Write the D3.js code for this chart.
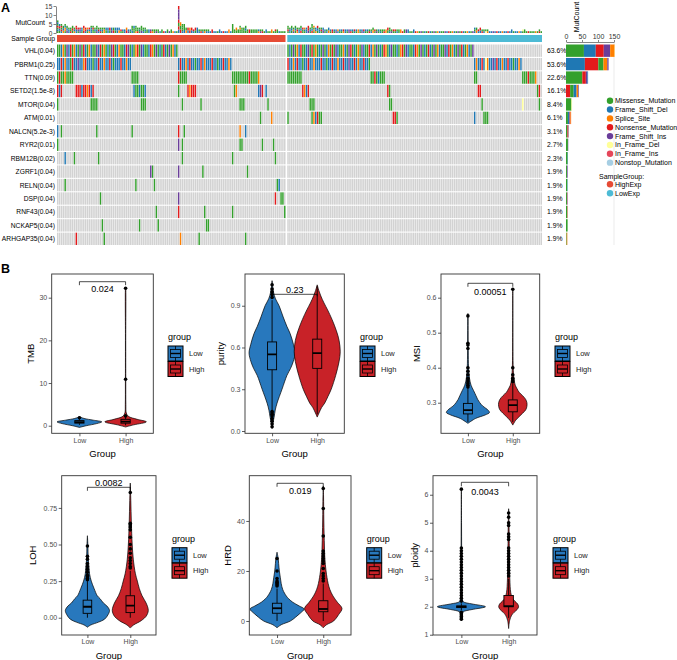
<!DOCTYPE html>
<html><head><meta charset="utf-8">
<script src="https://cdn.jsdelivr.net/npm/d3@7"></script>
<style>body{margin:0;background:#fff}svg{display:block}</style>
</head><body>
<svg id="c" width="677" height="660"></svg>
<script>
// ================= PANEL A DATA =================
const genes = ["VHL","PBRM1","TTN","SETD2","MTOR","ATM","NALCN","RYR2","RBM12B","ZGRF1","RELN","DSP","RNF43","NCKAP5","ARHGAP35"];
const genePvals = ["0.04","0.25","0.09","1.5e-8","0.04","0.01","5.2e-3","0.01","0.02","0.04","0.04","0.04","0.04","0.04","0.04"];
const genePct = ["63.6%","53.6%","22.6%","16.1%","8.4%","6.1%","3.1%","2.7%","2.3%","1.9%","1.9%","1.9%","1.9%","1.9%","1.9%"];
const variantTypes = ["Missense_Mutation","Frame_Shift_Del","Splice_Site","Nonsense_Mutation","Frame_Shift_Ins","In_Frame_Del","In_Frame_Ins","Nonstop_Mutation"];
const variantCodes = ["M","D","S","N","I","d","i","o"];
const variantColors = ["#33A02C","#1F78B4","#FF7F00","#E31A1C","#6A3D9A","#FFFF99","#E5465A","#A6CEE3"];
const sampleGroups = ["HighExp","LowExp"];
const sampleGroupColors = ["#E64B35","#4DBBD5"];
const nHigh = 123, nLow = 138;
const mutCountTicks = [0,5,10,15];
const geneBarTicks = [0,50,100,150];

// mutations per gene, as [first sample column, one code per column]
const highExpMutations = [
  [[0,"MMDSMIDNMS"+"DMIMNDMSDM"+"MIDNMSMDMI"+"NMDSMMDNIM"+"DMSNMIDMMD"+"NSMIMDMNDM"+"IMSDM"]],
  [[0,"DDNDSDDMND"+"DIDDSNDDDM"+"DDNDDSDDND"+"MDDDNDDSDD"],[65,"DNDDSDNDDM"+"DDNDSDDDND"+"DMDDNDDSD"]],
  [[0,"MNMMSMMMM"],[40,"MMMM"],[65,"NMMMM"],[94,"MMMMMMMMMNMMMMS"]],
  [[0,"NDN"],[10,"NNNDNNSNDN"],[41,"DMMDMMD"],[65,"M"],[70,"NSNNN"],[95,"MS"],[108,"DIN"],[112,"D"]],
  [[0,"M"],[18,"MMMM"],[45,"MMM"],[67,"M"],[77,"M"],[98,"MMM"],[113,"M"]],
  [[109,"M"],[115,"S"]],
  [[0,"D"],[2,"M"],[21,"M"],[40,"M"],[65,"N"],[68,"M"],[98,"S"],[101,"D"]],
  [[0,"M"],[65,"I"],[67,"M"],[98,"MM"],[110,"M"],[116,"M"]],
  [[4,"D"],[9,"M"],[22,"M"],[67,"M"],[94,"M"],[117,"M"]],
  [[50,"IM"],[65,"I"],[78,"M"],[102,"M"]],
  [[4,"M"],[42,"M"],[52,"M"],[118,"MD"]],
  [[23,"M"],[65,"I"],[117,"N"],[120,"MM"]],
  [[53,"M"],[65,"N"],[79,"M"],[94,"M"],[122,"M"]],
  [[24,"M"],[44,"M"],[54,"M"],[80,"MM"]],
  [[10,"N"],[25,"M"],[66,"S"],[76,"M"],[101,"M"]]
];
const lowExpMutations = [
  [[0,"MDMIMSDNMM"+"DIMNMSMDMI"+"MDSMNMIDMM"+"SDMINMDMSM"+"IDMMNDSMIM"+"DMNSMDIMMD"+"MSNMIDMMDN"+"SMIMDMNDMI"+"MSDMMIDNMS"+"DMIMNDMSDM"+"I"]],
  [[0,"NDDSDNDDMD"+"DNDDSDDDND"+"DMDDNDDSDD"+"NDDIDDNDSD"+"DNDDM"],[101,"DSDDNDdSDD"+"IDNDDSDDND"+"DMDDSD"]],
  [[0,"MMMMMMMM"],[45,"MMNMDMMM"],[101,"MM"],[127,"MMMNMMMS"]],
  [[8,"NSDN"],[54,"NM"],[103,"NN"],[135,"MN"]],
  [[12,"MMM"],[55,"MM"],[105,"M"],[127,"d"],[136,"M"]],
  [[0,"M"],[13,"MSDNMM"],[57,"NNM"],[101,"D"],[106,"MMM"]],
  [],[],[],[],[],[],[],[],[]
];
const mutCountHigh = [6,5,5,4,3,4,3,3,4,3, 4,3,3,3,4,3,3,3,3,3, 3,3,3,3,3,3,3,3,3,3, 3,3,3,3,2,2,2,3,2,2,
  4,4,4,3,3,4,2,2,2,2, 2,2,2,2,2,1,2,1,1,2, 1,2,1,1,1,15,6,5,5,3, 3,3,3,2,3,3,2,2,2,2,
  2,2,1,2,1,1,1,2,1,1, 1,1,2,1,5,2,3,2,3,2, 3,4,2,2,2,2,2,2,2,2, 1,1,2,1,1,2,1,1,2,1, 1,1,1];
const mutCountLow = [4,3,4,3,4,3,3,4,3,3, 3,4,3,5,3,3,4,3,3,3, 2,2,3,2,2,2,2,2,2,2, 2,2,2,2,2,2,2,2,2,2,
  2,2,2,2,2,2,3,2,2,2, 2,2,2,2,3,2,2,2,2,2, 2,2,1,2,2,2,1,1,2,1, 1,1,1,1,1,1,1,1,1,1,
  1,1,1,1,1,1,1,1,1,1, 1,1,1,1,1,1,1,1,1,1, 1,3,3,2,3,2,2,2,2,1, 1,1,1,1,1,1,1,1,1,1,
  1,2,1,1,1,1,1,1,2,1, 1,1,1,1,1,1,2,1];
// right-hand gene bar (mutations per gene, by type)
const barMissense       = [56,16,51,11,17,6,4,6,5,3,4,3,4,5,2];
const barFrameShiftDel  = [37,59,2,9,0,5,1,0,1,0,1,0,0,0,0];
const barSplice         = [14,12,0,5,0,2,1,0,0,0,0,0,0,0,1];
const barNonsense       = [25,42,11,13,0,3,2,0,0,0,0,1,1,0,1];
const barFrameShiftIns  = [20,4,5,2,0,0,1,1,0,2,0,1,0,0,0];
const barInFrameDel     = [1,0,0,0,2,0,0,0,0,0,0,0,0,0,1];
const barInFrameIns     = [0,0,0,0,0,0,0,0,0,0,0,0,0,0,0];
const barNonstop        = [0,0,0,0,0,0,0,0,0,0,0,0,0,0,0];

// ================= PANEL B DATA =================
const groupNames = ["Low","High"];
const groupColors = ["#2878BD","#C82228"];
const metricNames = ["TMB","purity","MSI","LOH","HRD","ploidy"];
const pValues = ["0.024","0.23","0.00051","0.0082","0.019","0.0043"];
const tmbTicks = [0,10,20,30], purityTicks = [0,0.3,0.6,0.9], msiTicks = [0.3,0.4,0.5,0.6],
      lohTicks = [0,0.25,0.5,0.75], hrdTicks = [0,20,40], ploidyTicks = [1,2,3,4,5,6];
// violin outlines: [value, relative half width]
const tmbLowDensity = [[-0.4,0],[0,0.3],[0.5,0.75],[0.9,0.97],[1.3,0.6],[1.7,0.2],[2.1,0]];
const tmbHighDensity = [[-0.3,0],[0.2,0.35],[0.9,0.9],[1.5,0.5],[2.2,0.12],[3,0.03],[5,0.012],[10,0.008],[20,0.006],[32.3,0.005],[32.4,0]];
const purityLowDensity = [[0.02,0],[0.06,0.04],[0.1,0.09],[0.15,0.14],[0.2,0.22],[0.3,0.44],[0.4,0.66],[0.45,0.82],[0.5,0.94],[0.56,1.02],[0.62,0.95],[0.7,0.8],[0.75,0.66],[0.82,0.49],[0.9,0.31],[0.95,0.15],[1.0,0.06],[1.08,0]];
const purityHighDensity = [[0.1,0],[0.13,0.08],[0.17,0.2],[0.2,0.33],[0.25,0.48],[0.3,0.62],[0.4,0.82],[0.5,0.97],[0.57,1.02],[0.65,0.97],[0.72,0.85],[0.8,0.66],[0.87,0.46],[0.92,0.3],[0.97,0.16],[1.01,0.07],[1.05,0]];
const msiLowDensity = [[0.241,0],[0.255,0.34],[0.265,0.77],[0.272,0.96],[0.28,0.88],[0.29,0.67],[0.3,0.53],[0.31,0.43],[0.32,0.36],[0.335,0.25],[0.35,0.14],[0.37,0.07],[0.4,0.03],[0.45,0.015],[0.55,0.005],[0.555,0]];
const msiHighDensity = [[0.236,0],[0.25,0.13],[0.26,0.28],[0.27,0.44],[0.28,0.58],[0.29,0.63],[0.3,0.63],[0.31,0.57],[0.32,0.44],[0.33,0.28],[0.34,0.19],[0.35,0.11],[0.37,0.05],[0.4,0.02],[0.5,0.006],[0.624,0.003],[0.626,0]];
const lohLowDensity = [[-0.065,0],[-0.05,0.15],[-0.03,0.52],[-0.01,0.8],[0.02,0.96],[0.05,1.03],[0.08,0.91],[0.1,0.75],[0.13,0.59],[0.15,0.46],[0.2,0.31],[0.25,0.18],[0.3,0.1],[0.35,0.07],[0.4,0.04],[0.5,0.02],[0.56,0]];
const lohHighDensity = [[-0.07,0],[-0.05,0.15],[-0.02,0.51],[0.01,0.74],[0.05,0.84],[0.1,0.74],[0.15,0.55],[0.2,0.42],[0.25,0.33],[0.3,0.24],[0.4,0.14],[0.5,0.09],[0.65,0.05],[0.8,0.025],[0.92,0]];
const hrdLowDensity = [[-2.7,0],[-1.5,0.18],[0,0.58],[1.5,0.8],[3,0.99],[4.8,1.17],[6,0.96],[7.5,0.68],[9,0.49],[10,0.4],[12.5,0.25],[15,0.18],[17.5,0.14],[20,0.1],[23,0.07],[25,0.05],[27.5,0]];
const hrdHighDensity = [[-2.7,0],[-1.5,0.14],[0,0.45],[2.5,0.66],[5,0.81],[7.5,0.61],[10,0.42],[12.5,0.29],[15,0.21],[20,0.12],[25,0.07],[30,0.05],[40,0.025],[50,0.012],[54,0]];
const ploidyLowDensity = [[1.5,0],[1.6,0.02],[1.75,0.04],[1.82,0.08],[1.9,0.45],[2.0,1.02],[2.1,0.45],[2.18,0.08],[2.3,0.04],[2.5,0.03],[3,0.02],[4,0.012],[5,0.007],[6.2,0]];
const ploidyHighDensity = [[1.22,0],[1.5,0.04],[1.7,0.13],[1.8,0.23],[1.9,0.36],[2.0,0.42],[2.1,0.38],[2.2,0.26],[2.3,0.16],[2.5,0.09],[3,0.05],[4,0.03],[5,0.015],[5.5,0]];
// boxes: [lower whisker, Q1, median, Q3, upper whisker]
const tmbLowBox = [0.2,0.6,0.85,1.2,1.7], tmbHighBox = [0.1,0.6,0.95,1.5,2.0];
const purityLowBox = [0.15,0.44,0.55,0.64,0.94], purityHighBox = [0.12,0.45,0.56,0.66,1.04];
const msiLowBox = [0.245,0.268,0.279,0.298,0.342], msiHighBox = [0.245,0.274,0.293,0.308,0.355];
const lohLowBox = [0,0.03,0.075,0.12,0.25], lohHighBox = [0,0.035,0.082,0.15,0.32];
const hrdLowBox = [0,3.1,5.1,7.1,13], hrdHighBox = [0,3.7,4.8,8.1,15];
const ploidyLowBox = [1.88,1.97,2.0,2.03,2.12], ploidyHighBox = [1.6,2.0,2.02,2.4,3.0];
// outliers
const tmbLowOut = [1.85], tmbHighOut = [2.3,10.9,32.2];
const purityLowOut = [0.03,0.05,0.07,0.09,0.11,0.12,0.13,0.14,0.96,0.98,1.0,1.02,1.05], purityHighOut = [];
const msiLowOut = [0.345,0.35,0.355,0.36,0.365,0.37,0.38,0.39,0.4,0.455,0.465,0.47,0.548], msiHighOut = [0.36,0.365,0.37,0.38,0.4,0.624];
const lohLowOut = [0.26,0.27,0.28,0.29,0.31,0.33,0.35,0.37,0.4,0.42,0.49], lohHighOut = [0.34,0.35,0.37,0.39,0.41,0.44,0.47,0.5,0.55,0.6,0.62,0.635,0.645,0.855];
const hrdLowOut = [14,14.5,15,15.5,16,17,20,25], hrdHighOut = [16,17,18,19,21,23,24,25,26,27,28,34,45,53];
const ploidyLowOut = [1.55,1.6,1.65,1.7,1.75,1.8,2.2,2.3,2.4,2.5,2.6,2.7,2.8,2.9,3.0,3.1,3.2,3.3,3.4,3.5,3.6,3.7,3.8,3.9,4.0,4.1,6.2];
const ploidyHighOut = [3.1,3.2,3.3,3.4,3.5,3.6,3.7,3.8,3.9,4.0,4.1,4.4,4.5,4.6,4.9,5.0,5.2,5.35];

// ================= DRAWING =================
const FONT = '"Liberation Sans", Arial, Helvetica, sans-serif';
const svg = d3.select("#c").attr("font-family", FONT);
svg.append("rect").attr("width",677).attr("height",660).attr("fill","#fff");
const colorOf = Object.fromEntries(variantCodes.map((c,i)=>[c,variantColors[i]]));

svg.append("text").attr("x",1).attr("y",12).attr("font-size",12.5).attr("font-weight","bold").text("A");
svg.append("text").attr("x",1).attr("y",273).attr("font-size",12.5).attr("font-weight","bold").text("B");

function buildMatrix(list, n){
  return list.map(segs=>{
    const row = new Array(n).fill(null);
    segs.forEach(([s,str])=>{ for(let k=0;k<str.length;k++) if(s+k<n) row[s+k]=str[k]; });
    return row;
  });
}
const matHigh = buildMatrix(highExpMutations, nHigh);
const matLow = buildMatrix(lowExpMutations, nLow);

const xHigh = d3.scaleBand().domain(d3.range(nHigh)).range([57,285.5]).paddingInner(0.22);
const xLow = d3.scaleBand().domain(d3.range(nLow)).range([287.3,542]).paddingInner(0.22);
const yGene = d3.scaleBand().domain(genes).range([44.5,245]).paddingInner(0.08);
const yMut = d3.scaleLinear().domain([0,15]).range([33,6]);

[[matHigh,xHigh,mutCountHigh],[matLow,xLow,mutCountLow]].forEach(([mat,xs,mc])=>{
  const g = svg.append("g");
  genes.forEach((gene,gi)=>{
    g.append("g").selectAll("rect").data(mat[gi]).join("rect")
      .attr("x",(d,i)=>xs(i)).attr("y",yGene(gene))
      .attr("width",xs.bandwidth()).attr("height",yGene.bandwidth())
      .attr("fill",d=>d?colorOf[d]:"#D2D2D2");
  });
  mc.forEach((v,i)=>{
    const types = mat.map(r=>r[i]).filter(Boolean);
    const segs = types.length ? types : ["M"];
    const total = Math.max(v, types.length);
    const unit = total/segs.length;
    let acc = 0;
    segs.forEach(t=>{
      g.append("rect").attr("x",xs(i)).attr("width",xs.bandwidth())
        .attr("y",yMut(acc+unit)).attr("height",yMut(acc)-yMut(acc+unit))
        .attr("fill",colorOf[t]);
      acc += unit;
    });
  });
});
// sample group strip
[[xHigh,nHigh,0],[xLow,nLow,1]].forEach(([xs,n,k])=>{
  svg.append("rect").attr("x",xs(0)).attr("y",35)
    .attr("width",xs(n-1)+xs.bandwidth()-xs(0)).attr("height",7)
    .attr("fill",sampleGroupColors[k]);
});
// mutcount axis
const axM = svg.append("g").attr("transform","translate(56,0)")
  .call(d3.axisLeft(yMut).tickValues(mutCountTicks).tickSize(2.5).tickSizeOuter(0).tickPadding(1.2));
axM.attr("font-size",6.5).attr("font-family",FONT);
axM.selectAll("text").attr("fill","#333");
axM.selectAll("line,path").attr("stroke","#333").attr("stroke-width",0.6);
svg.append("text").attr("x",45).attr("y",24.5).attr("text-anchor","end").attr("font-size",6.8).text("MutCount");
svg.append("text").attr("x",55).attr("y",41.3).attr("text-anchor","end").attr("font-size",6.8).text("Sample Group");
// gene labels and percentages
genes.forEach((gene,gi)=>{
  const cy = yGene(gene)+yGene.bandwidth()/2+2.5;
  svg.append("text").attr("x",55).attr("y",cy).attr("text-anchor","end").attr("font-size",6.7).text(`${gene}(${genePvals[gi]})`);
  svg.append("text").attr("x",547).attr("y",cy).attr("font-size",6.8).text(genePct[gi]);
});
// right gene bars
const xBar = d3.scaleLinear().domain([0,150]).range([566,614]);
svg.append("line").attr("x1",xBar(150)).attr("x2",xBar(150)).attr("y1",42).attr("y2",245).attr("stroke","#E6E6E6").attr("stroke-width",0.8);
const barSeries = [barMissense,barFrameShiftDel,barSplice,barNonsense,barFrameShiftIns,barInFrameDel,barInFrameIns,barNonstop];
genes.forEach((gene,gi)=>{
  const parts = barSeries.map((arr,ti)=>({t:ti,v:arr[gi]})).filter(p=>p.v>0).sort((a,b)=>b.v-a.v);
  let acc = 0;
  parts.forEach(p=>{
    svg.append("rect").attr("x",xBar(acc)).attr("y",yGene(gene))
      .attr("width",xBar(acc+p.v)-xBar(acc)).attr("height",yGene.bandwidth())
      .attr("fill",variantColors[p.t]);
    acc += p.v;
  });
});
const axB = svg.append("g").attr("transform","translate(0,42)")
  .call(d3.axisTop(xBar).tickValues(geneBarTicks).tickSize(2).tickSizeOuter(0).tickPadding(1.5));
axB.attr("font-size",7).attr("font-family",FONT);
axB.selectAll("text").attr("fill","#333");
axB.selectAll("line,path").attr("stroke","#333").attr("stroke-width",0.6);
svg.append("text").attr("transform","translate(578.5,17) rotate(-90)").attr("text-anchor","middle").attr("font-size",7).text("MutCount");
// legend A
variantTypes.forEach((t,i)=>{
  const y = 100.7 + i*8.85;
  svg.append("circle").attr("cx",610).attr("cy",y).attr("r",3.2).attr("fill",variantColors[i]);
  svg.append("text").attr("x",615).attr("y",y+2.5).attr("font-size",7).text(t);
});
svg.append("text").attr("x",599).attr("y",178.5).attr("font-size",7).text("SampleGroup:");
sampleGroups.forEach((s,i)=>{
  const y = 184.3 + i*9;
  svg.append("circle").attr("cx",610).attr("cy",y).attr("r",3.2).attr("fill",sampleGroupColors[i]);
  svg.append("text").attr("x",615).attr("y",y+2.5).attr("font-size",7).text(s);
});

// ================= PANEL B =================
const panelSeries = [
  {ticks:tmbTicks, fmt:"d", dens:[tmbLowDensity,tmbHighDensity], box:[tmbLowBox,tmbHighBox], out:[tmbLowOut,tmbHighOut]},
  {ticks:purityTicks, fmt:".1f", dens:[purityLowDensity,purityHighDensity], box:[purityLowBox,purityHighBox], out:[purityLowOut,purityHighOut]},
  {ticks:msiTicks, fmt:".1f", dens:[msiLowDensity,msiHighDensity], box:[msiLowBox,msiHighBox], out:[msiLowOut,msiHighOut]},
  {ticks:lohTicks, fmt:".2f", dens:[lohLowDensity,lohHighDensity], box:[lohLowBox,lohHighBox], out:[lohLowOut,lohHighOut]},
  {ticks:hrdTicks, fmt:"d", dens:[hrdLowDensity,hrdHighDensity], box:[hrdLowBox,hrdHighBox], out:[hrdLowOut,hrdHighOut]},
  {ticks:ploidyTicks, fmt:"d", dens:[ploidyLowDensity,ploidyHighDensity], box:[ploidyLowBox,ploidyHighBox], out:[ploidyLowOut,ploidyHighOut]}
];
const panelLayout = [
  {x0:51.7,x1:153.3,y0:274,y1:433.3,dom:[-1.78,35.55],titleX:30.7,keyX:168,brY:281.7,dropL:3.5,dropR:3.5,lblY:291.5},
  {x0:245,x1:344.3,y0:274,y1:433.3,dom:[-0.0165,1.128],titleX:221,keyX:360,brY:294.3,dropL:2,dropR:2,lblY:292.5},
  {x0:441,x1:539.7,y0:274,y1:433.3,dom:[0.2126,0.6677],titleX:416.7,keyX:555,brY:283.3,dropL:3.5,dropR:3.5,lblY:294.5},
  {x0:61.7,x1:156,y0:475.7,y1:635,dom:[-0.118,0.970],titleX:33,keyX:172,brY:487.3,dropL:3.5,dropR:3.5,lblY:485.5},
  {x0:249.3,x1:351,y0:475.7,y1:635,dom:[-5.6,58.1],titleX:228,keyX:366.7,brY:483.3,dropL:3.5,dropR:3.5,lblY:494},
  {x0:433,x1:537,y0:475.7,y1:635,dom:[0.99,6.68],titleX:415,keyX:553,brY:482.3,dropL:4,dropR:4,lblY:494.5}
];

panelSeries.forEach((S,pi)=>{
  const L = panelLayout[pi];
  const g = svg.append("g");
  const y = d3.scaleLinear().domain(L.dom).range([L.y1,L.y0]);
  const x = d3.scalePoint().domain(groupNames).range([L.x0,L.x1]).padding(0.6);
  const wS = d3.scaleLinear().domain([0,1]).range([0,x.step()/2]);
  const bw = x.step()*0.2;
  const clipId = "clip"+pi;
  g.append("clipPath").attr("id",clipId).append("rect").attr("x",L.x0).attr("y",L.y0).attr("width",L.x1-L.x0).attr("height",L.y1-L.y0);
  const inner = g.append("g").attr("clip-path",`url(#${clipId})`);
  groupNames.forEach((gn,gi)=>{
    const cx = x(gn);
    const area = d3.area().curve(d3.curveCatmullRom.alpha(0.5))
      .y(d=>y(d[0])).x0(d=>cx-wS(d[1])).x1(d=>cx+wS(d[1]));
    inner.append("path").attr("d",area(S.dens[gi])).attr("fill",groupColors[gi])
      .attr("stroke","#000").attr("stroke-width",0.7);
  });
  groupNames.forEach((gn,gi)=>{
    const cx = x(gn), b = S.box[gi];
    inner.append("line").attr("x1",cx).attr("x2",cx).attr("y1",y(b[0])).attr("y2",y(b[1])).attr("stroke","#000").attr("stroke-width",0.9);
    inner.append("line").attr("x1",cx).attr("x2",cx).attr("y1",y(b[3])).attr("y2",y(b[4])).attr("stroke","#000").attr("stroke-width",0.9);
    inner.append("rect").attr("x",cx-bw/2).attr("y",y(b[3])).attr("width",bw).attr("height",Math.max(0.5,y(b[1])-y(b[3])))
      .attr("fill",groupColors[gi]).attr("stroke","#000").attr("stroke-width",0.9);
    inner.append("line").attr("x1",cx-bw/2).attr("x2",cx+bw/2).attr("y1",y(b[2])).attr("y2",y(b[2])).attr("stroke","#000").attr("stroke-width",1.8);
    inner.selectAll(null).data(S.out[gi]).join("circle").attr("cx",cx).attr("cy",d=>y(d)).attr("r",1.8).attr("fill","#000");
  });
  // border
  g.append("rect").attr("x",L.x0).attr("y",L.y0).attr("width",L.x1-L.x0).attr("height",L.y1-L.y0)
    .attr("fill","none").attr("stroke","#333").attr("stroke-width",0.9);
  // axes
  const ay = g.append("g").attr("transform",`translate(${L.x0},0)`)
    .call(d3.axisLeft(y).tickValues(S.ticks).tickFormat(d3.format(S.fmt)).tickSize(3).tickSizeOuter(0).tickPadding(1.5));
  const ax = g.append("g").attr("transform",`translate(0,${L.y1})`)
    .call(d3.axisBottom(x).tickSize(3).tickSizeOuter(0).tickPadding(1.5));
  [ay,ax].forEach(a=>{
    a.attr("font-size",7).attr("font-family",FONT);
    a.select(".domain").remove();
    a.selectAll("line").attr("stroke","#333").attr("stroke-width",0.8);
    a.selectAll("text").attr("fill","#4D4D4D");
  });
  // titles
  const cyMid = (L.y0+L.y1)/2;
  g.append("text").attr("transform",`translate(${L.titleX+3},${cyMid}) rotate(-90)`).attr("text-anchor","middle").attr("font-size",9.5).text(metricNames[pi]);
  g.append("text").attr("x",(L.x0+L.x1)/2).attr("y",L.y1+23.5).attr("text-anchor","middle").attr("font-size",9.5).text("Group");
  // comparison bracket
  const xl = x("Low"), xh = x("High");
  g.append("path").attr("d",`M${xl},${L.brY+L.dropL}V${L.brY}H${xh}V${L.brY+L.dropR}`)
    .attr("fill","none").attr("stroke","#000").attr("stroke-width",0.7);
  g.append("text").attr("x",(xl+xh)/2).attr("y",L.lblY).attr("text-anchor","middle").attr("font-size",9).text(pValues[pi]);
  // legend
  const ly = L.y0 + 63;
  g.append("text").attr("x",L.keyX).attr("y",ly+3).attr("font-size",9).text("group");
  groupNames.forEach((gn,gi)=>{
    const ky = ly + 9 + gi*15.5, kx = L.keyX;
    const k = g.append("g");
    k.append("rect").attr("x",kx).attr("y",ky).attr("width",15).attr("height",15).attr("fill",groupColors[gi]).attr("stroke","#000").attr("stroke-width",1);
    k.append("rect").attr("x",kx+2.5).attr("y",ky+3.5).attr("width",10).attr("height",8).attr("fill",groupColors[gi]).attr("stroke","#000").attr("stroke-width",0.8);
    k.append("line").attr("x1",kx+2.5).attr("x2",kx+12.5).attr("y1",ky+7.5).attr("y2",ky+7.5).attr("stroke","#000").attr("stroke-width",1.4);
    k.append("line").attr("x1",kx+7.5).attr("x2",kx+7.5).attr("y1",ky).attr("y2",ky+3.5).attr("stroke","#000").attr("stroke-width",0.8);
    k.append("line").attr("x1",kx+7.5).attr("x2",kx+7.5).attr("y1",ky+11.5).attr("y2",ky+15).attr("stroke","#000").attr("stroke-width",0.8);
    g.append("text").attr("x",kx+21).attr("y",ky+10).attr("font-size",7.5).attr("fill","#222").text(gn);
  });
});
</script>
</body></html>
